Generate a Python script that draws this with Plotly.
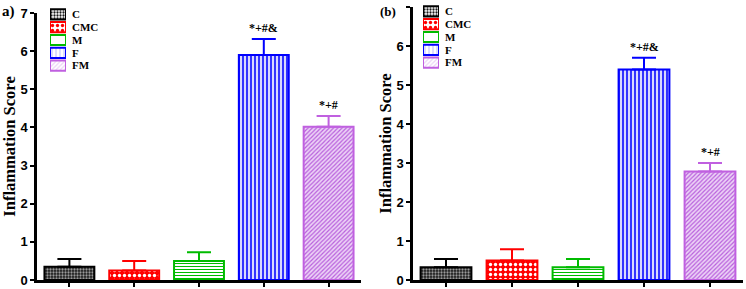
import plotly.graph_objects as go

categories = ["C", "CMC", "M", "F", "FM"]
values_a = [0.35, 0.25, 0.50, 5.90, 4.02]
errors_a = [0.20, 0.25, 0.23, 0.42, 0.28]
values_b = [0.33, 0.50, 0.33, 5.40, 2.78]
errors_b = [0.21, 0.29, 0.21, 0.30, 0.22]
sig_a = ["", "", "", "*+#&", "*+#"]
sig_b = ["", "", "", "*+#&", "*+#"]
y_ticks = [0, 1, 2, 3, 4, 5, 6, 7]

line_colors = ["#000000", "#ff0000", "#00bb00", "#0000ff", "#c060e0"]
pat_shapes = [".", ".", "-", "|", "/"]
pat_fg = ["#9a9a9a", "#ffffff", "#00bb00", "#2020ff", "#b860dc"]
pat_bg = ["#1a1a1a", "#ff0000", "#ffffff", "#d8d8ff", "#ecd2f6"]
pat_size = [3, 5, 3, 4, 3]
pat_sol = [0.45, 0.35, 0.35, 0.45, 0.4]

SERIF = "Liberation Serif"
SANS = "Liberation Sans"
H = 289.0
W = 746.0

fig = go.Figure()

for panel, (vals, errs, sig) in enumerate([(values_a, errors_a, sig_a), (values_b, errors_b, sig_b)]):
    xa = "x" if panel == 0 else "x2"
    ya = "y" if panel == 0 else "y2"
    for i, cat in enumerate(categories):
        fig.add_trace(go.Bar(
            x=[cat], y=[vals[i]], name=cat, xaxis=xa, yaxis=ya,
            width=0.77, showlegend=False,
            marker=dict(
                color=pat_bg[i],
                line=dict(color=line_colors[i], width=2),
                pattern=dict(shape=pat_shapes[i], fgcolor=pat_fg[i], bgcolor=pat_bg[i],
                             size=pat_size[i], solidity=pat_sol[i], fillmode="replace"),
            ),
            error_y=dict(type="data", symmetric=False, array=[errs[i]], arrayminus=[0],
                         color=line_colors[i], thickness=2, width=12),
        ))
        if sig[i]:
            fig.add_annotation(x=cat, y=vals[i] + errs[i], xref=xa, yref=ya,
                               text="<b>" + sig[i] + "</b>", showarrow=False,
                               yanchor="bottom", yshift=2,
                               font=dict(family=SERIF, size=12, color="black"))

# Legend keys (one swatch per category, drawn on small key axes)
for panel in range(2):
    xa = "x3" if panel == 0 else "x4"
    ya = "y3" if panel == 0 else "y4"
    fig.add_trace(go.Bar(
        y=categories, x=[1] * len(categories), orientation="h",
        xaxis=xa, yaxis=ya, width=0.8, showlegend=False, hoverinfo="y",
        marker=dict(
            color=pat_bg,
            line=dict(color=line_colors, width=2),
            pattern=dict(shape=pat_shapes, fgcolor=pat_fg, bgcolor=pat_bg,
                         size=pat_size, solidity=pat_sol, fillmode="replace"),
        ),
    ))

axis_common = dict(showline=True, linecolor="black", linewidth=2.5, showgrid=False,
                   zeroline=False, ticks="outside", ticklen=4, tickwidth=2, tickcolor="black",
                   automargin=False)

key_x = dict(range=[0, 1], visible=False, fixedrange=True, automargin=False)
key_y = dict(categoryorder="array", categoryarray=categories, autorange="reversed",
             tickmode="array", tickvals=categories, ticktext=categories,
             side="right", showline=False, showgrid=False, zeroline=False, ticks="",
             ticklabelstandoff=5, automargin=False,
             tickfont=dict(family=SERIF, size=11, color="black", weight="bold"))

fig.update_layout(
    width=746, height=289,
    margin=dict(l=0, r=0, t=0, b=0, autoexpand=False),
    paper_bgcolor="white", plot_bgcolor="white",
    barmode="overlay",
    showlegend=False,
    xaxis=dict(domain=[37/W, 361/W], range=[-0.5, 4.5], showticklabels=False,
               categoryorder="array", categoryarray=categories, **axis_common),
    xaxis2=dict(domain=[413/W, 743/W], range=[-0.5, 4.5], showticklabels=False,
                categoryorder="array", categoryarray=categories, **axis_common),
    yaxis=dict(domain=[(H-280)/H, (H-13)/H], range=[0, 7], tickvals=y_ticks,
               tickfont=dict(family=SANS, size=13, color="black", weight="bold"),
               title=dict(text="Inflammation Score", standoff=7,
                          font=dict(family=SERIF, size=16.5, color="black", weight="bold")),
               anchor="x", **axis_common),
    yaxis2=dict(domain=[(H-280)/H, (H-7)/H], range=[0, 7], tickvals=y_ticks,
                tickfont=dict(family=SANS, size=13, color="black", weight="bold"),
                title=dict(text="Inflammation Score", standoff=1,
                           font=dict(family=SERIF, size=16.5, color="black", weight="bold")),
                anchor="x2", **axis_common),
    xaxis3=dict(domain=[50/W, 66/W], anchor="y3", **key_x),
    yaxis3=dict(domain=[(H-72)/H, (H-8)/H], anchor="x3", **key_y),
    xaxis4=dict(domain=[423/W, 439/W], anchor="y4", **key_x),
    yaxis4=dict(domain=[(H-69)/H, (H-5)/H], anchor="x4", **key_y),
)

fig.add_annotation(x=0, y=(H-12)/H, xref="paper", yref="paper", text="<b>a)</b>",
                   showarrow=False, xanchor="left", yanchor="middle",
                   font=dict(family=SERIF, size=15, color="black"))
fig.add_annotation(x=378/W, y=(H-11)/H, xref="paper", yref="paper", text="<b>(b)</b>",
                   showarrow=False, xanchor="left", yanchor="middle",
                   font=dict(family=SERIF, size=13, color="black"))

fig.write_html("out.html", config={"displayModeBar": False},
               post_script="document.body.style.margin='0';")
